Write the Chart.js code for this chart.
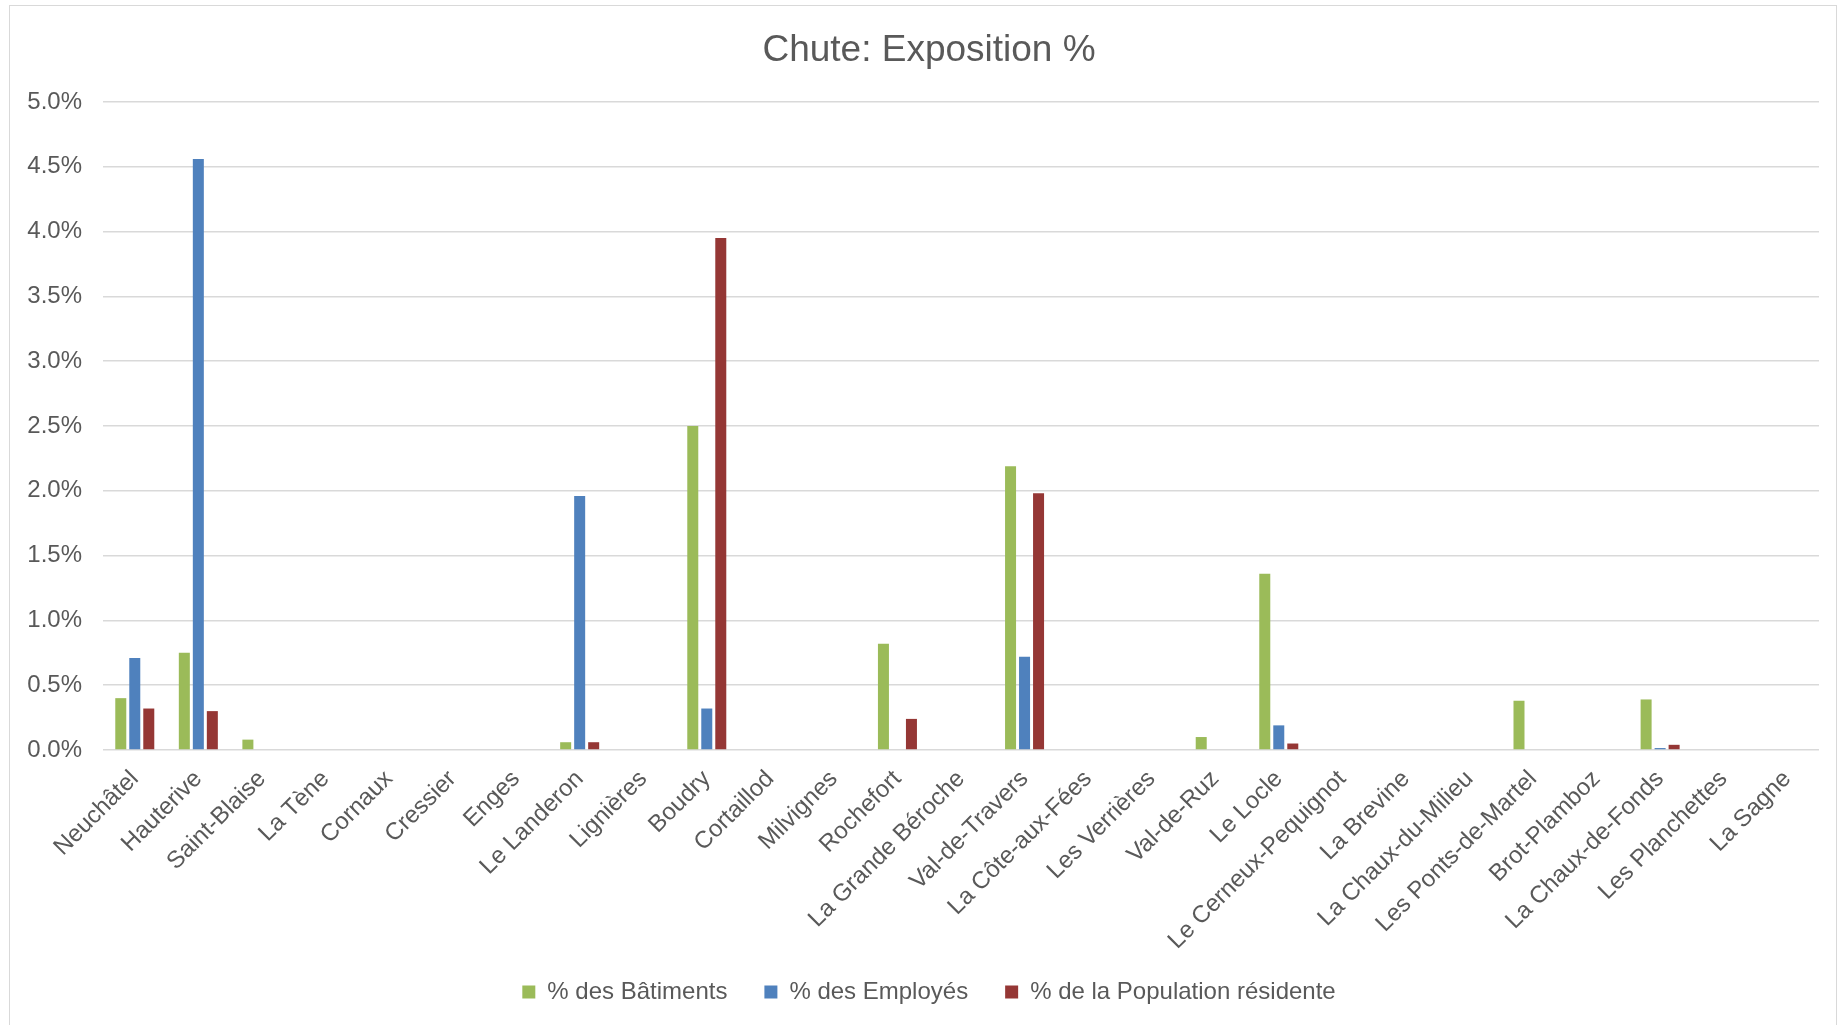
<!DOCTYPE html>
<html>
<head>
<meta charset="utf-8">
<script src="https://cdn.jsdelivr.net/npm/chart.js@4.4.1/dist/chart.umd.min.js"></script>
<style>
  html, body { margin: 0; padding: 0; background: #ffffff; overflow: hidden; }
  #wrap { position: relative; width: 1845px; height: 1025px; }
  #frame { position: absolute; left: 9px; top: 5px; width: 1828px; height: 1040px; border: 1.5px solid #D9D9D9; box-sizing: border-box; pointer-events: none; }
  canvas { position: absolute; left: 0; top: 0; }
</style>
</head>
<body>
<div id="wrap">
  <canvas id="c" width="1845" height="1025"></canvas>
  <div id="frame"></div>
</div>
<script>
const categories = ["Neuchâtel","Hauterive","Saint-Blaise","La Tène","Cornaux","Cressier","Enges","Le Landeron","Lignières","Boudry","Cortaillod","Milvignes","Rochefort","La Grande Béroche","Val-de-Travers","La Côte-aux-Fées","Les Verrières","Val-de-Ruz","Le Locle","Le Cerneux-Pequignot","La Brevine","La Chaux-du-Milieu","Les Ponts-de-Martel","Brot-Plamboz","La Chaux-de-Fonds","Les Planchettes","La Sagne"];
const batiments  = [0.40,0.75,0.08,0,0,0,0,0.06,0,2.50,0,0,0.82,0,2.19,0,0,0.10,1.36,0,0,0,0.38,0,0.39,0,0];
const employes   = [0.71,4.56,0,0,0,0,0,1.96,0,0.32,0,0,0,0,0.72,0,0,0,0.19,0,0,0,0,0,0.015,0,0];
const population = [0.32,0.30,0,0,0,0,0,0.06,0,3.95,0,0,0.24,0,1.98,0,0,0,0.05,0,0,0,0,0,0.04,0,0];
const seriesNames = ["% des Bâtiments","% des Employés","% de la Population résidente"];
const yTicks = [0,0.5,1.0,1.5,2.0,2.5,3.0,3.5,4.0,4.5,5.0];

const txt = '#595959';
const font = "'Liberation Sans', Arial, sans-serif";

new Chart(document.getElementById('c'), {
  type: 'bar',
  data: {
    labels: categories,
    datasets: [
      { label: seriesNames[0], data: batiments, backgroundColor: '#9BBB59', yAxisID: 'y' },
      { label: seriesNames[1], data: employes, backgroundColor: '#4F81BD', yAxisID: 'y' },
      { label: seriesNames[2], data: population, backgroundColor: '#953735', yAxisID: 'y' }
    ]
  },
  options: {
    responsive: false,
    animation: false,
    devicePixelRatio: 1,
    datasets: { bar: { categoryPercentage: 0.661, barPercentage: 0.786, borderWidth: 0 } },
    layout: { padding: { left: 13, right: 0, top: 0, bottom: 11 } },
    plugins: {
      tooltip: { enabled: false },
      title: {
        display: true,
        text: 'Chute: Exposition %',
        color: txt,
        font: { family: font, size: 37, weight: 'normal', lineHeight: 1.2 },
        padding: { top: 29, bottom: 28.5 }
      },
      legend: {
        position: 'bottom',
        labels: {
          color: txt,
          font: { family: font, size: 24 },
          boxWidth: 13,
          boxHeight: 13,
          padding: 25,
          generateLabels: (chart) => {
            const items = Chart.defaults.plugins.legend.labels.generateLabels(chart);
            return items.map((l, i) => Object.assign(l, { text: i < items.length - 1 ? l.text + '\u2002' : l.text }));
          }
        }
      }
    },
    scales: {
      x: {
        grid: { display: false },
        border: { display: false },
        ticks: {
          color: txt,
          font: { family: font, size: 24 },
          maxRotation: 45,
          minRotation: 45,
          autoSkip: false,
          padding: 7
        },
        afterFit: (s) => { s.height = 205; }
      },
      y: {
        min: 0,
        max: 5,
        afterBuildTicks: (s) => { s.ticks = yTicks.map(v => ({ value: v })); },
        grid: { color: '#D9D9D9', lineWidth: 1.5, drawTicks: false },
        border: { display: false },
        ticks: {
          color: txt,
          font: { family: font, size: 24 },
          padding: 21,
          callback: (v) => Number(v).toFixed(1) + '%'
        },
        afterFit: (s) => { s.width = 90; }
      },
      y2: {
        position: 'right',
        display: true,
        grid: { display: false },
        border: { display: false },
        ticks: { display: false },
        afterFit: (s) => { s.width = 26; }
      }
    }
  }
});
</script>
</body>
</html>
